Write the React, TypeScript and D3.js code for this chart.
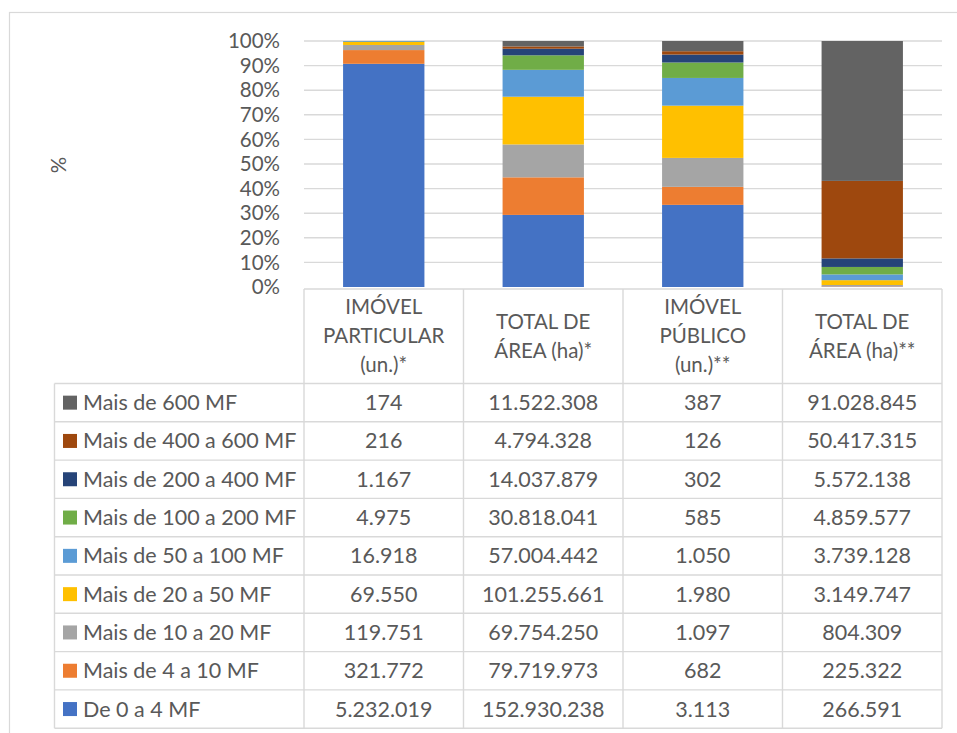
import React from "react";
import * as d3 from "d3";

const categories = ["IMÓVEL PARTICULAR (un.)*", "TOTAL DE ÁREA (ha)*", "IMÓVEL PÚBLICO (un.)**", "TOTAL DE ÁREA (ha)**"];
const headerLines = [["IMÓVEL", "PARTICULAR", "(un.)*"], ["TOTAL DE", "ÁREA (ha)*"], ["IMÓVEL", "PÚBLICO", "(un.)**"], ["TOTAL DE", "ÁREA (ha)**"]];
const seriesNames = [
  "De 0 a 4 MF",
  "Mais de 4 a 10 MF",
  "Mais de 10 a 20 MF",
  "Mais de 20 a 50 MF",
  "Mais de 50 a 100 MF",
  "Mais de 100 a 200 MF",
  "Mais de 200 a 400 MF",
  "Mais de 400 a 600 MF",
  "Mais de 600 MF",
];
const s0 = [5232019, 152930238, 3113, 266591];
const s1 = [321772, 79719973, 682, 225322];
const s2 = [119751, 69754250, 1097, 804309];
const s3 = [69550, 101255661, 1980, 3149747];
const s4 = [16918, 57004442, 1050, 3739128];
const s5 = [4975, 30818041, 585, 4859577];
const s6 = [1167, 14037879, 302, 5572138];
const s7 = [216, 4794328, 126, 50417315];
const s8 = [174, 11522308, 387, 91028845];
const seriesValues = [s0, s1, s2, s3, s4, s5, s6, s7, s8];
const colors = ["#4472C4", "#ED7D31", "#A5A5A5", "#FFC000", "#5B9BD5", "#70AD47", "#264478", "#9E480E", "#636363"];
const yTicks = [0, 0.1, 0.2, 0.3, 0.4, 0.5, 0.6, 0.7, 0.8, 0.9, 1];

const FONT = "Lato, 'Open Sans', sans-serif";
const TXT = "#595959";
const GRID = "#D9D9D9";

export default function App() {
  const plotL = 304, plotR = 942, plotT = 41, plotB = 287;
  const x = d3.scaleBand<string>().domain(categories).range([plotL, plotR]).paddingInner(0.49).paddingOuter(0.245);
  const xc = d3.scaleBand<string>().domain(categories).range([plotL, plotR]);
  const y = d3.scaleLinear().domain([0, 1]).range([plotB, plotT]);
  const pct = d3.format(".0%");
  const loc = d3.formatLocale({ decimal: ",", thousands: ".", grouping: [3], currency: ["R$", ""] });
  const num = loc.format(",d");

  const rows = categories.map((c, i) => {
    const o: any = { cat: c };
    seriesNames.forEach((s, j) => (o[s] = seriesValues[j][i]));
    return o;
  });
  const stack = d3.stack<any>().keys(seriesNames).offset(d3.stackOffsetExpand);
  const layers = stack(rows);

  const headerTop = 289, headerBot = 383.5, rowH = 38.3;
  const tableL = 54.5;
  const legendRows = seriesNames.slice().reverse();
  const rowY = (k: number) => headerBot + k * rowH;

  return (
    <div style={{ position: "absolute", left: 0, top: 0 }}>
      <svg width={957} height={733} style={{ display: "block", background: "#fff" }} fontFamily={FONT}>
        <rect x={9.5} y={12.5} width={960} height={730} fill="#fff" stroke={GRID} strokeWidth={1.2} />
        {yTicks.map((t) => (
          <g key={t}>
            {t > 0 && <line x1={plotL} x2={plotR} y1={y(t)} y2={y(t)} stroke={GRID} strokeWidth={1.4} />}
            <text x={280} y={y(t)} dy="0.35em" textAnchor="end" fontSize={20.5} fill={TXT}>{pct(t)}</text>
          </g>
        ))}
        <text transform={`translate(66,165) rotate(-90)`} textAnchor="middle" fontSize={20.5} fill={TXT}>%</text>
        {layers.map((layer, j) => (
          <g key={j} fill={colors[j]}>
            {layer.map((d, i) => (
              <rect key={i} x={x(categories[i])} width={x.bandwidth()} y={y(d[1])} height={Math.max(0, y(d[0]) - y(d[1]))} />
            ))}
          </g>
        ))}
        <g stroke={GRID} strokeWidth={1.4} fill="none">
          <line x1={plotL} x2={plotR} y1={headerTop} y2={headerTop} />
          {d3.range(legendRows.length + 1).map((k) => (
            <line key={k} x1={tableL} x2={plotR} y1={rowY(k)} y2={rowY(k)} />
          ))}
          <line x1={tableL} x2={tableL} y1={headerBot} y2={rowY(legendRows.length)} />
          {categories.map((c) => (
            <line key={c} x1={xc(c)!} x2={xc(c)!} y1={headerTop} y2={rowY(legendRows.length)} />
          ))}
          <line x1={plotR} x2={plotR} y1={headerTop} y2={rowY(legendRows.length)} />
        </g>
        {categories.map((c, i) => {
          const lines = headerLines[i];
          const cx = xc(c)! + xc.bandwidth() / 2;
          const mid = (headerTop + headerBot) / 2;
          const lh = 29;
          return (
            <text key={c} textAnchor="middle" fontSize={20.5} fill={TXT}>
              {lines.map((l, k) => (
                <tspan key={k} x={cx} y={mid + (k - (lines.length - 1) / 2) * lh} dy="0.35em">{l}</tspan>
              ))}
            </text>
          );
        })}
        {legendRows.map((s, k) => {
          const j = seriesNames.indexOf(s);
          const cy = rowY(k) + rowH / 2;
          return (
            <g key={s}>
              <rect x={63} y={cy - 7} width={14} height={14} fill={colors[j]} />
              <text x={83} y={cy} dy="0.35em" fontSize={21.5} fill={TXT}>{s}</text>
              {categories.map((c, i) => (
                <text key={c} x={xc(c)! + xc.bandwidth() / 2} y={cy} dy="0.35em" textAnchor="middle" fontSize={21.5} fill={TXT}>
                  {num(seriesValues[j][i])}
                </text>
              ))}
            </g>
          );
        })}
      </svg>
    </div>
  );
}
